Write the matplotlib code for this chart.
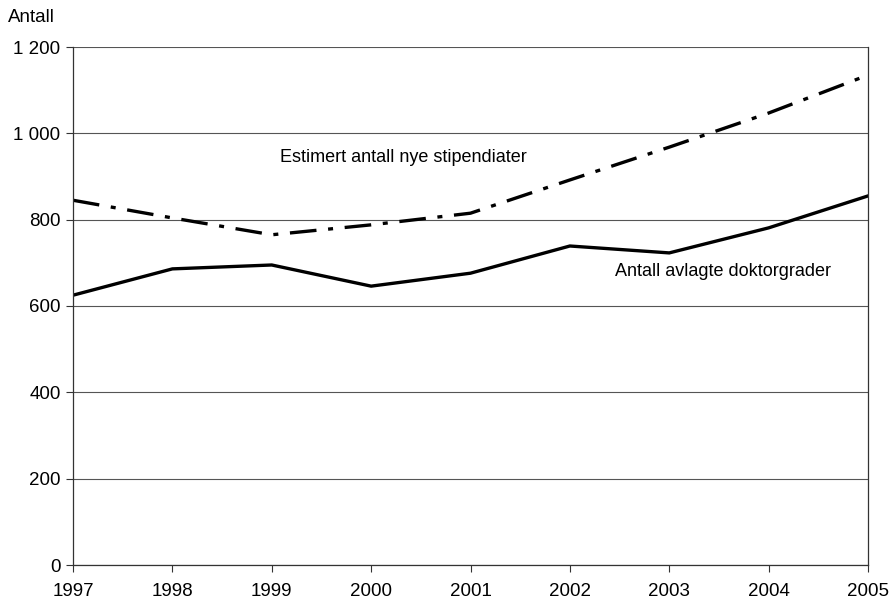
import matplotlib
matplotlib.use("Agg")
import matplotlib.pyplot as plt

years = [1997, 1998, 1999, 2000, 2001, 2002, 2003, 2004, 2005]
doktorgrader = [625, 686, 695, 646, 676, 739, 723, 781, 855]
stipendiater = [845, 804, 765, 788, 815, 892, 968, 1047, 1135]
yticks = [0, 200, 400, 600, 800, 1000, 1200]
ytick_labels = ["0", "200", "400", "600", "800", "1 000", "1 200"]

plt.rcParams['font.family'] = ['Liberation Sans', 'DejaVu Sans']

fig = plt.figure(figsize=(8.92, 6.02), dpi=100)
ax = fig.add_axes([73/892, 37/602, (868-73)/892, (565-47)/602])

ax.plot(years, doktorgrader, color='black', lw=2.4, solid_joinstyle='miter')
ax.plot(years, stipendiater, color='black', lw=2.4, dashes=(8, 3.5, 1.5, 3.5), dash_capstyle='butt')

ax.set_xlim(1997, 2005)
ax.set_ylim(0, 1200)
ax.set_yticks(yticks)
ax.set_yticklabels(ytick_labels)
ax.set_xticks(years)
ax.set_xticklabels([str(y) for y in years])
ax.yaxis.grid(True, color='#555555', lw=0.8)
ax.set_axisbelow(True)
ax.spines['top'].set_visible(False)
for s in ['left', 'bottom', 'right']:
    ax.spines[s].set_color('#333333')
    ax.spines[s].set_linewidth(0.9)
ax.tick_params(axis='both', labelsize=13.5, length=5, color='#333333', direction='out')
ax.tick_params(axis='x', pad=8)
ax.tick_params(axis='y', pad=4)

ax.text(1999.08, 945, "Estimert antall nye stipendiater", fontsize=13, va='center', ha='left')
ax.text(2003.54, 679, "Antall avlagte doktorgrader", fontsize=13, va='center', ha='center')
fig.text(8/892, 1-18/602, "Antall", fontsize=13.5, va='center', ha='left')

fig.savefig("out.png", dpi=100)
